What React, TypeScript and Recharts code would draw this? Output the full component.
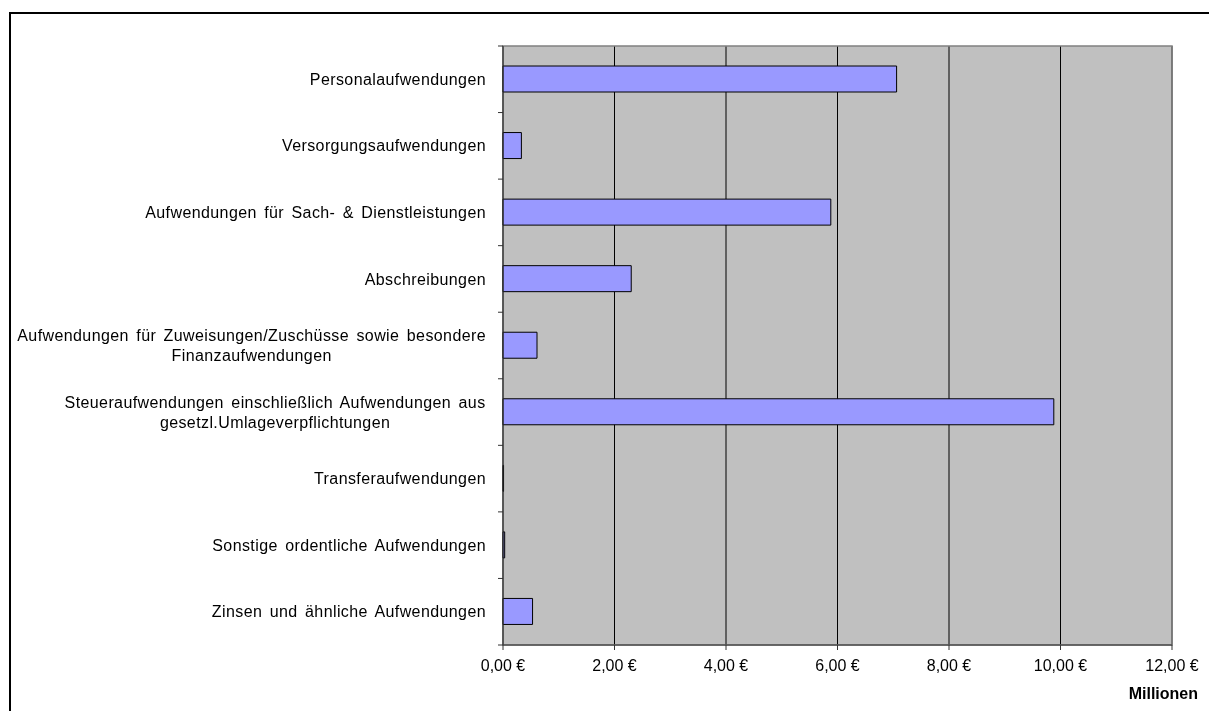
import React from 'react';
import { BarChart, Bar, XAxis, YAxis, CartesianGrid, ReferenceArea, Label } from 'recharts';

// ---- data ----
const categories: string[] = [
  'Personalaufwendungen',
  'Versorgungsaufwendungen',
  'Aufwendungen für Sach- & Dienstleistungen',
  'Abschreibungen',
  'Aufwendungen für Zuweisungen/Zuschüsse sowie besondere\nFinanzaufwendungen',
  'Steueraufwendungen einschließlich Aufwendungen aus\ngesetzl.Umlageverpflichtungen',
  'Transferaufwendungen',
  'Sonstige ordentliche Aufwendungen',
  'Zinsen und ähnliche Aufwendungen',
];
const values: number[] = [7.06, 0.33, 5.88, 2.3, 0.61, 9.88, 0.01, 0.03, 0.53];
const xTicks: number[] = [0, 2, 4, 6, 8, 10, 12];
const axisUnit = 'Millionen';

const data = categories.map((name, i) => ({ name, value: values[i] }));

// ---- layout / style ----
const W = 1193;
const H = 695;
const M = { top: 38, right: 29, bottom: 0, left: 0 };
const Y_W = 495;
const X_H = 58;
const PLOT_H = H - M.top - M.bottom - X_H;
const FONT = "'Liberation Sans', Arial, Helvetica, sans-serif";
const FS = 16;
const LS = 0.4;
const WS = 2.6;
const TICK_SIZE = 5;
const TICK_MARGIN = 12;

let ctx: CanvasRenderingContext2D | null = null;
function measure(text: string): number {
  if (!ctx) ctx = document.createElement('canvas').getContext('2d');
  if (!ctx) return text.length * 8;
  ctx.font = `${FS}px ${FONT}`;
  try {
    (ctx as any).letterSpacing = `${LS}px`;
    (ctx as any).wordSpacing = `${WS}px`;
  } catch (e) {}
  return ctx.measureText(text).width;
}

const YTick = (props: any) => {
  const { x, y, payload, index } = props;
  const lines = String(payload.value).split('\n');
  const axisX = x + TICK_SIZE + TICK_MARGIN;
  const half = PLOT_H / categories.length / 2;
  const lineH = 20;
  const blockW = Math.max(...lines.map(measure));
  const textStyle = { fontFamily: FONT, fontSize: FS, letterSpacing: LS, wordSpacing: WS } as any;
  return (
    <g>
      {index === 0 && (
        <line x1={axisX - TICK_SIZE} x2={axisX} y1={y - half} y2={y - half} stroke="#333" />
      )}
      <line x1={axisX - TICK_SIZE} x2={axisX} y1={y + half} y2={y + half} stroke="#333" />
      {lines.length === 1 ? (
        <text x={x} y={y} dy="0.35em" textAnchor="end" fill="#000" style={textStyle}>
          {lines[0]}
        </text>
      ) : (
        lines.map((ln, i) => (
          <text
            key={i}
            x={x - blockW / 2}
            y={y + (i - (lines.length - 1) / 2) * lineH}
            dy="0.35em"
            textAnchor="middle"
            fill="#000"
            style={textStyle}
          >
            {ln}
          </text>
        ))
      )}
    </g>
  );
};

const fmt = (v: number) => `${v.toFixed(2).replace('.', ',')} €`;

const UnitLabel = (props: any) => {
  const vb = props.viewBox || {};
  return (
    <text
      x={(vb.x ?? 0) + (vb.width ?? 0) + 26}
      y={(vb.y ?? 0) + 48}
      dy="0.35em"
      textAnchor="end"
      fill="#000"
      fontWeight="bold"
      style={{ fontFamily: FONT, fontSize: FS }}
    >
      {axisUnit}
    </text>
  );
};

export default function App() {
  return (
    <div style={{ position: 'relative', width: W, height: H, background: '#fff' }}>
      <div
        style={{
          position: 'fixed',
          left: 9,
          top: 12,
          right: -20,
          bottom: -20,
          borderTop: '2px solid #000',
          borderLeft: '2px solid #000',
          pointerEvents: 'none',
        }}
      />
      <BarChart width={W} height={H} data={data} layout="vertical" margin={M} barSize={26}>
        <CartesianGrid horizontal={false} vertical stroke="#000" fill="#C0C0C0" fillOpacity={1} />
        <XAxis
          type="number"
          dataKey="value"
          domain={[0, 12]}
          ticks={xTicks}
          interval={0}
          height={X_H}
          stroke="#333"
          tickSize={TICK_SIZE}
          tickMargin={10}
          tickFormatter={fmt}
          tick={{ fill: '#000', fontSize: FS, fontFamily: FONT }}
        >
          <Label content={<UnitLabel />} />
        </XAxis>
        <YAxis
          type="category"
          dataKey="name"
          width={Y_W}
          interval={0}
          stroke="#333"
          tickLine={false}
          tickSize={TICK_SIZE}
          tickMargin={TICK_MARGIN}
          tick={<YTick />}
        />
        <ReferenceArea x1={0} x2={12} fill="none" stroke="#808080" strokeWidth={1.5} />
        <Bar dataKey="value" fill="#9999FF" stroke="#000" strokeWidth={1} isAnimationActive={false} />
      </BarChart>
    </div>
  );
}
